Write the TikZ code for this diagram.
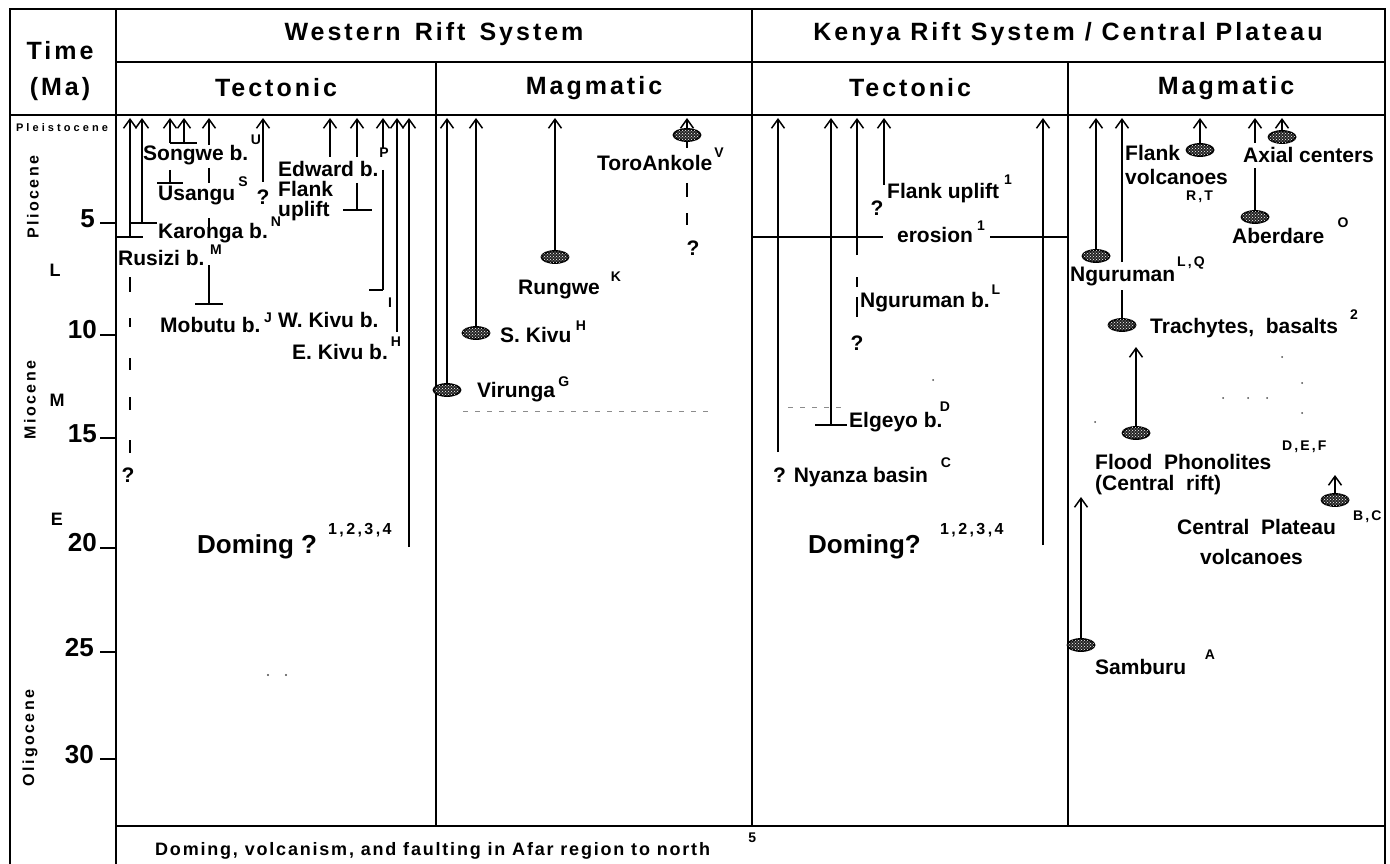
\documentclass[tikz,border=0pt]{standalone}
\usepackage{fontspec}
\setmainfont{Liberation Sans}
\newfontfamily\hdrf[LetterSpace=12]{Liberation Sans}
\newfontfamily\widef[LetterSpace=15]{Liberation Sans}
\newfontfamily\pleisf[LetterSpace=28]{Liberation Sans}
\newfontfamily\botf[LetterSpace=10]{Liberation Sans}
\usetikzlibrary{arrows.meta,shapes.geometric,patterns}
\newcommand\riftarrow[3]{%
  \coordinate (#1t) at (#2,118);
  \coordinate (#1b) at (#2,#3);
  \draw[upa] (#1b) -- (#1t);}
\newcommand\rseg[4]{%
  \coordinate (#1a) at (#2,#3);
  \coordinate (#1b) at (#2,#4);
  \draw[rl] (#1a) -- (#1b);}
\newcommand\rbar[4]{%
  \coordinate (#1a) at (#3,#2);
  \coordinate (#1b) at (#4,#2);
  \draw[rl] (#1a) -- (#1b);}
\tikzset{
  frm/.style={line width=2.3pt},
  thk/.style={line width=2.8pt},
  rl/.style={line width=1.6pt},
  upa/.style={rl,-{Straight Barb[length=9pt,width=13pt,line width=1.5pt]}},
  body/.style={font=\bfseries\fontsize{21}{24}\selectfont,inner sep=0pt,anchor=west},
  cbody/.style={body,anchor=center},
  supr/.style={font=\widef\bfseries\fontsize{14}{16}\selectfont,inner sep=0pt},
  supl/.style={supr,anchor=west},
  volc/.style={ellipse,draw,line width=1.8pt,fill=black!85,minimum width=27pt,minimum height=12pt,inner sep=0pt,
    postaction={pattern=crosshatch dots,pattern color=white}},
  hdr/.style={font=\hdrf\bfseries\fontsize{25}{30}\selectfont,inner sep=0pt},
  num/.style={font=\bfseries\fontsize{26}{30}\selectfont,inner sep=0pt,anchor=east},
  epoch/.style={font=\widef\bfseries\fontsize{16}{18}\selectfont,inner sep=0pt,rotate=90},
  sublet/.style={font=\bfseries\fontsize{18}{20}\selectfont,inner sep=0pt},
  doming/.style={font=\bfseries\fontsize{26}{30}\selectfont,inner sep=0pt,anchor=west},
  domsup/.style={font=\widef\bfseries\fontsize{16}{18}\selectfont,inner sep=0pt,anchor=west},
  faint/.style={black!45,line width=0.8pt,dash pattern=on 5pt off 7pt},
  speck/.style={black!70},
}
\begin{document}
\begin{tikzpicture}[x=1pt,y=-1pt]
\useasboundingbox (0,0) rectangle (1390,864);
\fill[white] (0,0) rectangle (1390,864);
% ---------- table grid ----------
\draw[frm] (10,864) -- (10,9) -- (1385,9) -- (1385,864);
\draw[frm] (116,62) -- (1385,62);
\draw[frm] (10,115) -- (1385,115);
\draw[frm] (116,826) -- (1385,826);
\draw[frm] (116,9) -- (116,864);
\draw[frm] (436,62) -- (436,826);
\draw[thk] (752,9) -- (752,826);
\draw[thk] (1068,62) -- (1068,826);
% ---------- headers ----------
\node[hdr] (time) at (60,51) {Time};
\node[hdr] (ma) at (60,89) {(Ma)};
\node[hdr] (wrs) at (434,34) {Western\, Rift\, System};
\node[hdr] (krs) at (1068,34) {Kenya Rift System / Central Plateau};
\node[hdr] (wtec) at (276,88) {Tectonic};
\node[hdr] (wmag) at (594,88) {Magmatic};
\node[hdr] (ktec) at (910,88) {Tectonic};
\node[hdr] (kmag) at (1226,88) {Magmatic};
% ---------- time column ----------
\node[font=\pleisf\bfseries\fontsize{11}{12}\selectfont,inner sep=0pt] (pleis) at (62,128) {Pleistocene};
\node[epoch] (plio) at (33,197) {Pliocene};
\node[epoch] (mio) at (30,400) {Miocene};
\node[epoch] (oli) at (30,738) {Oligocene};
\node[sublet] (eL) at (55,270) {L};
\node[sublet] (eM) at (57,400) {M};
\node[sublet] (eE) at (57,519) {E};
\node[num] (n5) at (95,219) {5};
\node[num] (n10) at (97,330) {10};
\node[num] (n15) at (97,434) {15};
\node[num] (n20) at (97,543) {20};
\node[num] (n25) at (94,648) {25};
\node[num] (n30) at (94,755) {30};
\rbar{t5}{223}{100}{116}
\rbar{t10}{335}{100}{116}
\rbar{t15}{438}{100}{116}
\rbar{t20}{548}{100}{116}
\rbar{t25}{652}{100}{116}
\rbar{t30}{759}{100}{116}
% ---------- Western rift : tectonic ----------
\riftarrow{a1}{130}{237} \rbar{b1}{237}{117}{143}
\riftarrow{a2}{142}{223} \rbar{b2}{223}{130}{157}
\riftarrow{a3}{170}{143}
\riftarrow{a4}{184}{143} \rbar{b3}{143}{170}{197}
\rseg{us}{170}{170}{183} \rbar{b4}{183}{157}{183}
\riftarrow{a5}{209}{145}
\rseg{mo1}{209}{168}{183}
\rseg{mo2}{209}{218}{230}
\rseg{mo3}{209}{265}{304} \rbar{b5}{304}{195}{223}
\riftarrow{a6}{263}{182}
\riftarrow{a7}{330}{157}
\riftarrow{a8}{357}{157}
\rseg{ed}{357}{183}{210} \rbar{b6}{210}{343}{372}
\riftarrow{a9}{383}{148}
\rseg{wk}{383}{170}{290} \rbar{b7}{290}{369}{383}
\riftarrow{a10}{397}{332}
\riftarrow{a11}{409}{547}
\rseg{rz1}{130}{277}{292}
\rseg{rz2}{130}{318}{327}
\rseg{rz3}{130}{358}{370}
\rseg{rz4}{130}{397}{410}
\rseg{rz5}{130}{440}{453}
\node[body] (songwe) at (143,155) {Songwe b.};
\node[body] (usangu) at (158,196) {Usangu};
\node[supr] (usup) at (243,182) {S};
\node[body] (karonga) at (158,233) {Karonga b.};
\node[supr] (ksup) at (276,222) {N};
\node[body] (rusizi) at (118,258) {Rusizi b.};
\node[supr] (rsup) at (216,250) {M};
\node[cbody] (rq) at (128,475) {?};
\node[supr] (usup2) at (256,140) {U};
\node[cbody] (uq) at (263,197) {?};
\node[body] (edward) at (278,169) {Edward b.};
\node[supr] (esup) at (384,153) {P};
\node[body] (flank) at (278,189) {Flank};
\node[body] (uplift) at (278,211) {uplift};
\node[body] (mobutu) at (160,325) {Mobutu b.};
\node[supr] (msup) at (268,318) {J};
\node[body] (wkivu) at (278,320) {W. Kivu b.};
\node[supr] (wsup) at (390,303) {I};
\node[body] (ekivu) at (292,352) {E. Kivu b.};
\node[supr] (ekup) at (396,342) {H};
\node[doming] (wdom) at (197,547) {Doming ?};
\node[domsup] (wdsup) at (328,530) {1,2,3,4};
\fill[speck] (268,675) circle (1.2pt);
\fill[speck] (286,675) circle (1.2pt);
% ---------- Western rift : magmatic ----------
\node[volc] (vir) at (447,390) {};
\coordinate (virt) at (447,118);
\draw[upa] (vir.north) -- (virt);
\node[volc] (skv) at (476,333) {};
\coordinate (skvt) at (476,118);
\draw[upa] (skv.north) -- (skvt);
\node[volc] (rung) at (555,257) {};
\coordinate (rungt) at (555,118);
\draw[upa] (rung.north) -- (rungt);
\node[volc] (toro) at (687,135) {};
\coordinate (torot) at (687,118);
\coordinate (torob) at (687,148);
\draw[upa] (toro.north) -- (torot);
\draw[rl] (toro.south) -- (torob);
\rseg{to1}{687}{183}{197}
\rseg{to2}{687}{213}{225}
\node[cbody] (toq) at (693,248) {?};
\node[body] (toroan) at (597,163) {ToroAnkole};
\node[supr] (tsup) at (719,153) {V};
\node[body] (rungwe) at (518,290) {Rungwe};
\node[supr] (rusup) at (616,277) {K};
\node[body] (skivu) at (500,335) {S. Kivu};
\node[supr] (sksup) at (581,326) {H};
\node[body] (virunga) at (477,392) {Virunga};
\node[supl] (vsup) at ([xshift=3pt,yshift=10pt]virunga.east) {G};
\draw[faint] (463,411) -- (710,411);
% ---------- Kenya rift : tectonic ----------
\riftarrow{k1}{778}{452}
\riftarrow{k2}{831}{425} \rbar{b8}{425}{815}{847}
\riftarrow{k3}{857}{255}
\rseg{ng1}{857}{277}{287}
\rseg{ng2}{857}{297}{317}
\riftarrow{k4}{884}{185}
\riftarrow{k5}{1043}{545}
\node[body,anchor=center] (eros) at (935,235) {erosion};
\node[supr] (erup) at (981,226) {1};
\coordinate (er1) at (752,237);
\coordinate (er2) at (883,237);
\coordinate (er3) at (990,237);
\coordinate (er4) at (1068,237);
\draw[rl] (er1) -- (er2);
\draw[rl] (er3) -- (er4);
\node[cbody] (kfq) at (877,208) {?};
\node[body] (kflank) at (887,193) {Flank uplift};
\node[supr] (kfsup) at (1008,180) {1};
\node[body] (ngb) at (860,302) {Nguruman b.};
\node[supr] (ngsup) at (996,290) {L};
\node[cbody] (ngq) at (857,343) {?};
\node[body] (elg) at (849,422) {Elgeyo b.};
\node[supr] (elsup) at (945,407) {D};
\node[body] (nyz) at (773,477) {? Nyanza basin};
\node[supr] (nysup) at (946,463) {C};
\node[doming] (kdom) at (808,547) {Doming?};
\node[domsup] (kdsup) at (940,530) {1,2,3,4};
\draw[faint] (788,407) -- (845,407);
\fill[speck] (933,380) circle (1pt);
% ---------- Kenya rift : magmatic ----------
\node[volc] (ngv) at (1096,256) {};
\coordinate (ngvt) at (1096,118);
\draw[upa] (ngv.north) -- (ngvt);
\riftarrow{n2}{1122}{262}
\node[volc] (trv) at (1122,325) {};
\coordinate (trvt) at (1122,290);
\draw[rl] (trv.north) -- (trvt);
\node[volc] (fv) at (1200,150) {};
\coordinate (fvt) at (1200,118);
\draw[upa] (fv.north) -- (fvt);
\riftarrow{ax}{1255}{143}
\node[volc] (abv) at (1255,217) {};
\coordinate (abvt) at (1255,168);
\draw[rl] (abv.north) -- (abvt);
\node[volc] (axv) at (1282,137) {};
\coordinate (axvt) at (1282,118);
\draw[upa] (axv.north) -- (axvt);
\node[volc] (fpv) at (1136,433) {};
\coordinate (fpvt) at (1136,347);
\draw[upa] (fpv.north) -- (fpvt);
\node[volc] (cpv) at (1335,500) {};
\coordinate (cpvt) at (1335,475);
\draw[upa] (cpv.north) -- (cpvt);
\node[volc] (sav) at (1081,645) {};
\coordinate (savt) at (1081,497);
\draw[upa] (sav.north) -- (savt);
\node[body] (kfl) at (1125,153) {Flank};
\node[body] (kvo) at (1125,177) {volcanoes};
\node[supl] (rtsup) at (1186,197) {R,T};
\node[body] (axial) at (1243,155) {Axial centers};
\node[body] (aber) at (1232,236) {Aberdare};
\node[supr] (absup) at (1343,223) {O};
\node[body] (ngm) at (1070,276) {Nguruman};
\node[supl] (ngmsup) at (1177,263) {L,Q};
\node[body] (trach) at (1150,328) {Trachytes,\ \ basalts};
\node[supr] (trsup) at (1354,315) {2};
\node[body] (flood) at (1095,462) {Flood\ \ Phonolites};
\node[supl] (flsup) at (1282,447) {D,E,F};
\node[body] (crift) at (1095,485) {(Central\ \ rift)};
\node[body] (cplat) at (1177,527) {Central\ \ Plateau};
\node[supl] (cpsup) at (1353,517) {B,C};
\node[body] (cvol) at (1200,557) {volcanoes};
\node[body] (samb) at (1095,667) {Samburu};
\node[supr] (sasup) at (1210,655) {A};
\fill[speck] (1282,357) circle (1pt);
\fill[speck] (1302,383) circle (1pt);
\fill[speck] (1223,398) circle (1pt);
\fill[speck] (1248,398) circle (1pt);
\fill[speck] (1267,398) circle (1pt);
\fill[speck] (1302,413) circle (1pt);
\fill[speck] (1095,422) circle (1pt);
% ---------- bottom row ----------
\node[font=\botf\bfseries\fontsize{18}{20}\selectfont,anchor=west,inner sep=0pt] (afar) at (155,851) {Doming, volcanism, and faulting in Afar region to north};
\node[supl] (afsup) at ([xshift=38pt,yshift=13pt]afar.east) {5};
\end{tikzpicture}
\end{document}
